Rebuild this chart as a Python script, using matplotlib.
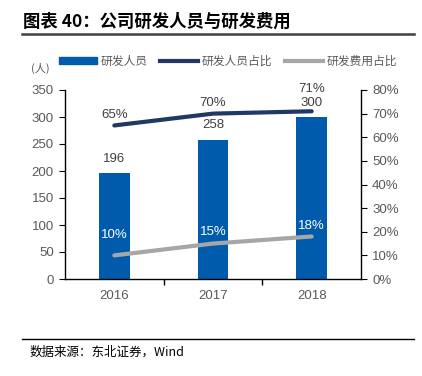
import matplotlib
matplotlib.use("Agg")
import matplotlib.pyplot as plt
from matplotlib.lines import Line2D
from matplotlib.patches import Patch

plt.rcParams['font.family'] = ['Liberation Sans', 'Noto Sans CJK SC', 'DejaVu Sans']

years = ["2016", "2017", "2018"]
staff = [196, 258, 300]
staff_ratio = [65, 70, 71]
expense_ratio = [10, 15, 18]
left_ticks = [0, 50, 100, 150, 200, 250, 300, 350]
right_ticks = [0, 10, 20, 30, 40, 50, 60, 70, 80]

BAR = "#005BAC"
NAVY = "#1F3864"
GRAY = "#A6A6A6"
TXT = "#595959"

fig = plt.figure(figsize=(4.22, 3.76), dpi=100)
ax = fig.add_axes([65/422, 1-279/376, (361-65)/422, (279-90)/376])
ax2 = ax.twinx()

x = list(range(len(years)))
ax.bar(x, staff, width=0.31, color=BAR, zorder=2)
ax.set_xlim(-0.5, 2.5)
ax.set_ylim(0, 350)
ax.set_yticks(left_ticks)
ax.set_yticklabels([str(v) for v in left_ticks])
ax.set_xticks([0.5, 1.5])
ax.set_xticklabels([])
ax.set_xticks(x, minor=True)
ax.set_xticklabels(years, minor=True)
ax.tick_params(axis='x', which='minor', length=0, pad=8, labelsize=9.5, labelcolor=TXT)
ax.tick_params(axis='x', which='major', length=4, direction='out', width=1)
ax.tick_params(axis='y', length=4, direction='out', labelsize=9.5, labelcolor=TXT, pad=4)

ax2.set_ylim(0, 80)
ax2.set_yticks(right_ticks)
ax2.set_yticklabels([f"{v}%" for v in right_ticks])
ax2.tick_params(axis='y', length=4, direction='out', labelsize=9.5, labelcolor=TXT, pad=4)

for a in (ax, ax2):
    a.spines['top'].set_visible(False)
    for s in ('left', 'right', 'bottom'):
        a.spines[s].set_color('black')
        a.spines[s].set_linewidth(1)
ax.spines['right'].set_visible(False)
ax2.spines['left'].set_visible(False)
ax2.spines['bottom'].set_visible(False)

ax2.plot(x, staff_ratio, color=NAVY, lw=3, solid_capstyle='round', zorder=3)
ax2.plot(x, expense_ratio, color=GRAY, lw=3, solid_capstyle='round', zorder=3)

# labels
staff_off = [6, 6, 6]
for i, v in enumerate(staff):
    ax.annotate(str(v), (i, v), xytext=(0, staff_off[i]), textcoords='offset points',
                ha='center', va='bottom', fontsize=9.5, color='#404040')
ratio_off = [3, 3, 11.5]
for i, v in enumerate(staff_ratio):
    ax2.annotate(f"{v}%", (i, v), xytext=(0, ratio_off[i]), textcoords='offset points',
                 ha='center', va='bottom', fontsize=9.5, color='#404040')
exp_off = [10, 4, 3]
for i, v in enumerate(expense_ratio):
    ax2.annotate(f"{v}%", (i, v), xytext=(0, exp_off[i]), textcoords='offset points',
                 ha='center', va='bottom', fontsize=9.5, color='white', zorder=5)

fig.text(40/422, 1-68/376, "(人)", fontsize=8, color=TXT, ha='center', va='center',
         family=['Noto Sans CJK SC'])

# legend
handles = [Patch(facecolor=BAR, edgecolor=BAR),
           Line2D([0], [0], color=NAVY, lw=3),
           Line2D([0], [0], color=GRAY, lw=3)]
labels = ["研发人员", "研发人员占比", "研发费用占比"]
leg = fig.legend(handles, labels, loc='center', bbox_to_anchor=(228/422, 1-61/376),
                 ncol=3, frameon=False, handlelength=3.2, handleheight=0.6,
                 handletextpad=0.3, columnspacing=1.1,
                 prop={'family': ['Noto Sans CJK SC'], 'size': 8.5})
for t in leg.get_texts():
    t.set_color(TXT)

# title & source
fig.text(23/422, 1-22/376, "图表 40：公司研发人员与研发费用", fontsize=12.5, fontweight='bold',
         ha='left', va='center', family=['Noto Sans CJK SC'], color='black')
fig.add_artist(Line2D([22/422, 414/422], [1-34/376, 1-34/376], color='#404040', lw=1.8))
fig.add_artist(Line2D([22/422, 414/422], [1-339/376, 1-339/376], color='black', lw=1))
fig.text(30/422, 1-352/376, "数据来源：东北证券，Wind", fontsize=9,
         ha='left', va='center', family=['Noto Sans CJK SC'], color='black')

fig.savefig("out.png", dpi=100)
